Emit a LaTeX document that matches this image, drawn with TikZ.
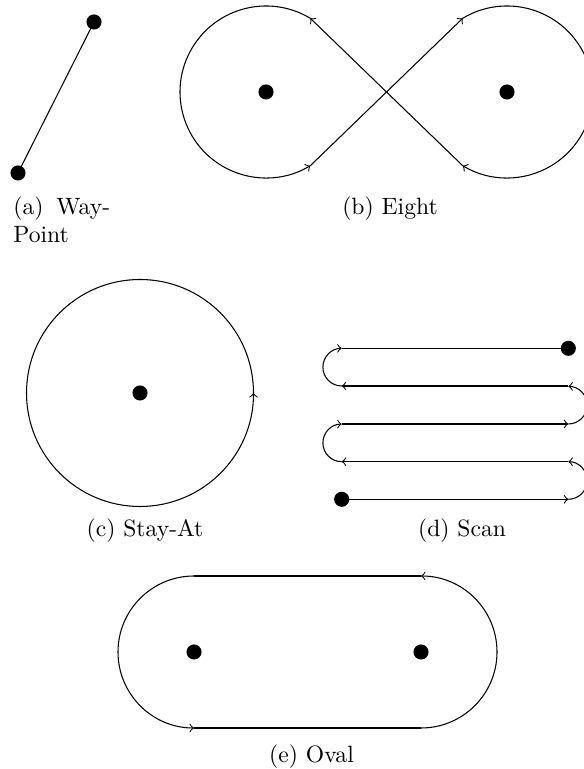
\documentclass[tikz,border=0pt]{standalone}
\begin{document}
\begin{tikzpicture}[x=0.4237pt,y=0.4237pt,
  dot/.style={circle,fill=black,inner sep=0pt,minimum size=6.4pt},
  trk/.style={line width=0.45pt},
  captext/.style={anchor=base,inner sep=0pt}]
\useasboundingbox (0,0) rectangle (583,769);
% (a) Way-Point
\node[dot] (wa1) at (94,747) {};
\node[dot] (wa2) at (18,596) {};
\draw[trk] (wa2.center) -- (wa1.center);
\node[captext,anchor=base west] (capa1) at (13,554) {(a)\hspace{5.4pt}Way-};
\node[captext,anchor=base west] (capa2) at (13,526) {Point};
% (b) Eight
\node[dot] (eL) at (266,677) {};
\node[dot] (eR) at (507,677) {};
\path (eL.center) ++(59:86) coordinate (A);
\path (eL.center) ++(-59:86) coordinate (B);
\path (eR.center) ++(121:86) coordinate (C);
\path (eR.center) ++(-121:86) coordinate (D);
\draw[trk,->] (B) -- (C);
\draw[trk,->] (C) arc[start angle=121,end angle=-121,radius=86];
\draw[trk,->] (D) -- (A);
\draw[trk,->] (A) arc[start angle=59,end angle=301,radius=86];
\node[captext] (capb) at (390,554) {(b) Eight};
% (c) Stay-At
\node[dot] (sc) at (140,376) {};
\path (sc.center) ++(0:113.5) coordinate (scr);
\draw[trk,->] (scr) arc[start angle=0,end angle=360,radius=113.5];
\node[captext] (capc) at (145,232) {(c) Stay-At};
% (d) Scan
\node[dot] (ss) at (341.7,269.7) {};
\node[dot] (se) at (568.3,420.7) {};
\coordinate (r1) at (568.3,269.7);
\coordinate (l2) at (341.7,307.3);
\coordinate (r2) at (568.3,307.3);
\coordinate (l3) at (341.7,345);
\coordinate (r3) at (568.3,345);
\coordinate (l4) at (341.7,383);
\coordinate (r4) at (568.3,383);
\coordinate (l5) at (341.7,420.7);
\draw[trk,->] (ss.center) -- (r1);
\draw[trk,->] (r1) arc[start angle=-90,end angle=90,radius=18.8];
\draw[trk,->] (r2) -- (l2);
\draw[trk,->] (l2) arc[start angle=270,end angle=90,radius=18.8];
\draw[trk,->] (l3) -- (r3);
\draw[trk,->] (r3) arc[start angle=-90,end angle=90,radius=18.8];
\draw[trk,->] (r4) -- (l4);
\draw[trk,->] (l4) arc[start angle=270,end angle=90,radius=18.8];
\draw[trk] (l5) -- (se.center);
\node[captext] (capd) at (462,232) {(d) Scan};
% (e) Oval
\node[dot] (oL) at (194,117) {};
\node[dot] (oR) at (421,117) {};
\coordinate (ob1) at (194,41);
\coordinate (ob2) at (421,41);
\coordinate (ot2) at (421,193);
\coordinate (ot1) at (194,193);
\draw[trk] (ob1) -- (ob2);
\draw[trk,->] (ob2) arc[start angle=-90,end angle=90,radius=76];
\draw[trk] (ot2) -- (ot1);
\draw[trk,->] (ot1) arc[start angle=90,end angle=270,radius=76];
\node[captext] (cape) at (311.5,6) {(e) Oval};
\end{tikzpicture}
\end{document}
